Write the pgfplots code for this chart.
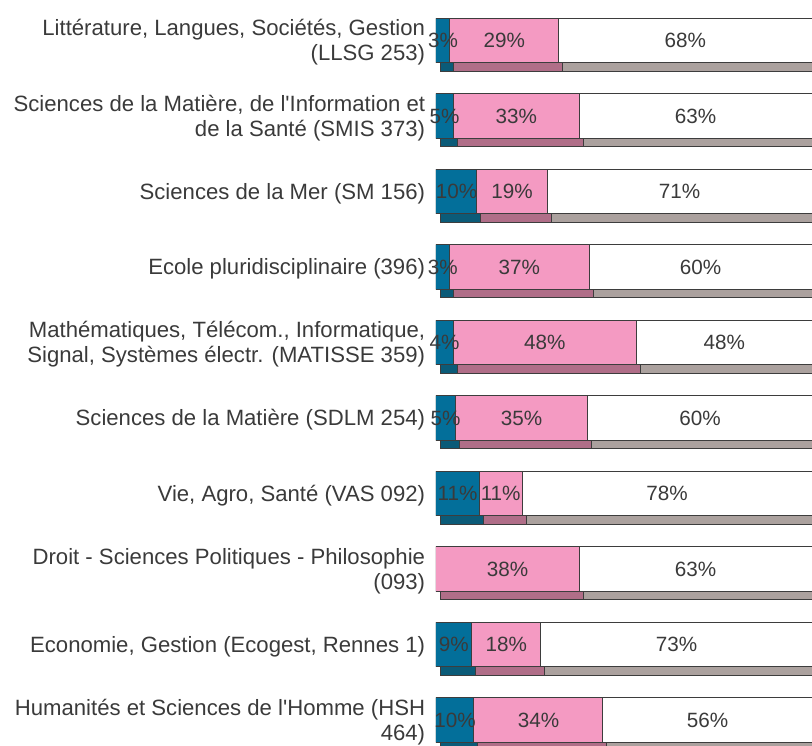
\documentclass[border=0pt]{standalone}
\usepackage{fontspec}
\setmainfont{Liberation Sans}[Ligatures=TeXOff]
\usepackage{pgfplots}
\usepackage{pgfplotstable}
\pgfplotsset{compat=1.18}

\definecolor{cblue}{HTML}{036F9A}
\definecolor{cpink}{HTML}{F49AC2}
\definecolor{cbluedk}{HTML}{0B5B78}
\definecolor{cpinkdk}{HTML}{B06E88}
\definecolor{cgraydk}{HTML}{ABA19E}
\definecolor{cedge}{HTML}{3D3D3D}
\definecolor{ctext}{HTML}{3A3A3A}

% b = blue share, p = pink share, w = white (rest, clipped at 100)
\pgfplotstableread{
idx b    p    w   lb lp lw
0   3.7  28.9 100 3  29 68
1   4.6  33.5 100 5  33 63
2   10.9 18.7 100 10 19 71
3   3.6  37.1 100 3  37 60
4   4.6  48.7 100 4  48 48
5   5.1  35.3 100 5  35 60
6   11.5 11.4 100 11 11 78
7   0    38.1 100 0  38 63
8   9.5  18.4 100 9  18 73
9   10.1 34.3 100 10 34 56
}\data

\pgfplotsset{
  base/.style={width=282pt, height=558.75pt, scale only axis,
    xmin=0, xmax=100, ymin=-0.536, ymax=9.331, y dir=reverse, anchor=south west},
  seg/.style={draw=cedge, line width=0.75pt},
  pct/.style={draw=none, mark=none,
    nodes near coords={\pgfmathprintnumber[fixed,precision=0,assume math mode=true]{\pgfplotspointmeta}\%},
    every node near coord/.style={anchor=center, inner sep=0pt, text=ctext,
      font=\fontsize{15.5}{18}\selectfont}},
}

\begin{document}
\begin{tikzpicture}
% depth (bottom faces)
\begin{axis}[base, at={(3pt,-6.4pt)}, hide axis, xbar stacked, bar width=33.3pt]
\addplot[seg, fill=cbluedk] table[x=b, y=idx] {\data};
\addplot[seg, fill=cpinkdk] table[x=p, y=idx] {\data};
\addplot[seg, fill=cgraydk] table[x=w, y=idx] {\data};
\end{axis}
% front faces
\begin{axis}[base, at={(0,0)}, xbar stacked, bar width=33.3pt,
  axis line style={draw=none}, xtick=\empty, ytick={0,...,9},
  major tick length=0pt, tick style={draw=none},
  yticklabel style={align=right, inner sep=0pt, xshift=-8pt, yshift=-1.5pt, text=ctext,
    font=\fontsize{16.6}{18.75}\selectfont},
  yticklabels={
    {Littérature, Langues, Sociétés, Gestion\\(LLSG 253)},
    {Sciences de la Matière, de l'Information et\\de la Santé (SMIS 373)},
    {Sciences de la Mer (SM 156)},
    {Ecole pluridisciplinaire (396)},
    {Mathématiques, Télécom., Informatique,\\Signal, Systèmes électr. (MATISSE 359)},
    {Sciences de la Matière (SDLM 254)},
    {Vie, Agro, Santé (VAS 092)},
    {Droit - Sciences Politiques - Philosophie\\(093)},
    {Economie, Gestion (Ecogest, Rennes 1)},
    {Humanités et Sciences de l'Homme (HSH\\464)}}]
\addplot[seg, fill=cblue] table[x=b, y=idx] {\data};
\addplot[seg, fill=cpink] table[x=p, y=idx] {\data};
\addplot[seg, fill=white] table[x=w, y=idx] {\data};
\end{axis}
% percentage labels
\begin{axis}[base, at={(0,0)}, hide axis, clip=false]
\addplot[pct, point meta=\thisrow{lb}, skip coords between index={7}{8}]
  table[x expr=\thisrow{b}/2, y=idx] {\data};
\addplot[pct, point meta=\thisrow{lp}]
  table[x expr=\thisrow{b}+\thisrow{p}/2, y=idx] {\data};
\addplot[pct, point meta=\thisrow{lw}]
  table[x expr=(\thisrow{b}+\thisrow{p}+100)/2, y=idx] {\data};
\end{axis}
\pgfresetboundingbox
\useasboundingbox (-327pt,0) rectangle (282pt,558.75pt);
\end{tikzpicture}
\end{document}
